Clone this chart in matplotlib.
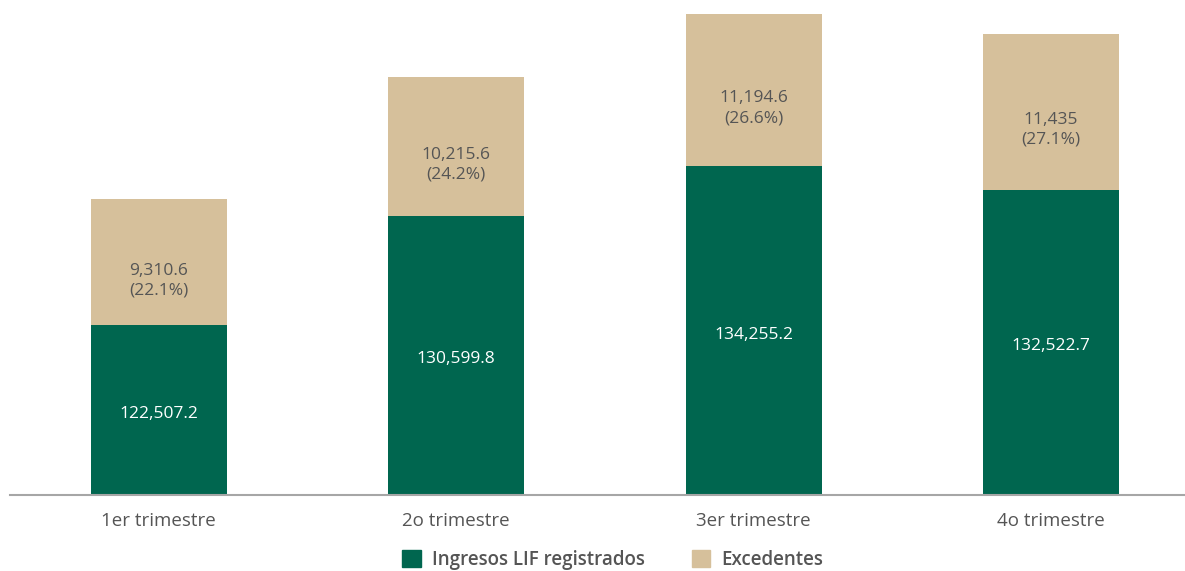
import matplotlib
matplotlib.use('Agg')
import matplotlib.pyplot as plt
from matplotlib.patches import Patch

plt.rcParams['font.family'] = ['Open Sans', 'DejaVu Sans']

trimestres = ['1er trimestre', '2o trimestre', '3er trimestre', '4o trimestre']
ingresos_lif = [122507.2, 130599.8, 134255.2, 132522.7]
excedentes = [9310.6, 10215.6, 11194.6, 11435.0]
excedentes_txt = ['9,310.6', '10,215.6', '11,194.6', '11,435']
porcentajes = ['22.1%', '24.2%', '26.6%', '27.1%']

verde = '#00664F'
arena = '#D6C09B'
gris = '#555555'
base = 110000

fig = plt.figure(figsize=(11.85, 5.71), dpi=100)
ax = fig.add_axes([10 / 1185, 76 / 571, 1175 / 1185, 495 / 571])

x = range(len(trimestres))
ax.bar(x, [v - base for v in ingresos_lif], bottom=base, width=0.458, color=verde)
ax.bar(x, excedentes, bottom=ingresos_lif, width=0.458, color=arena)

for i in x:
    ax.annotate(f'{ingresos_lif[i]:,.1f}', (i, (base + ingresos_lif[i]) / 2), xytext=(0, -3),
                textcoords='offset points', ha='center', va='center', color='white', fontsize=12.5)
    ax.annotate(f'{excedentes_txt[i]}\n({porcentajes[i]})',
                (i, ingresos_lif[i] + excedentes[i] / 2), xytext=(0, -13), textcoords='offset points',
                ha='center', va='center', color=gris, fontsize=12.5, linespacing=1.3)

ax.set_xlim(-0.5, 3.45)
ax.set_ylim(base, 146500)
ax.set_xticks(list(x))
ax.set_xticklabels(trimestres, fontsize=13.5, color=gris)
ax.tick_params(axis='x', length=0, pad=12)
ax.set_yticks([])
for s in ['top', 'right', 'left']:
    ax.spines[s].set_visible(False)
ax.spines['bottom'].set_color('#A6A6A6')
ax.spines['bottom'].set_linewidth(1.5)

handles = [Patch(color=verde, label='Ingresos LIF registrados'), Patch(color=arena, label='Excedentes')]
fig.legend(handles=handles, loc='upper center', bbox_to_anchor=(0.517, 38 / 571), ncol=2, frameon=False,
           prop={'size': 13.5, 'weight': 'semibold'}, labelcolor=gris, handlelength=1.0, handleheight=1.0,
           columnspacing=2.5, handletextpad=0.6)

fig.savefig('out.png', dpi=100)
